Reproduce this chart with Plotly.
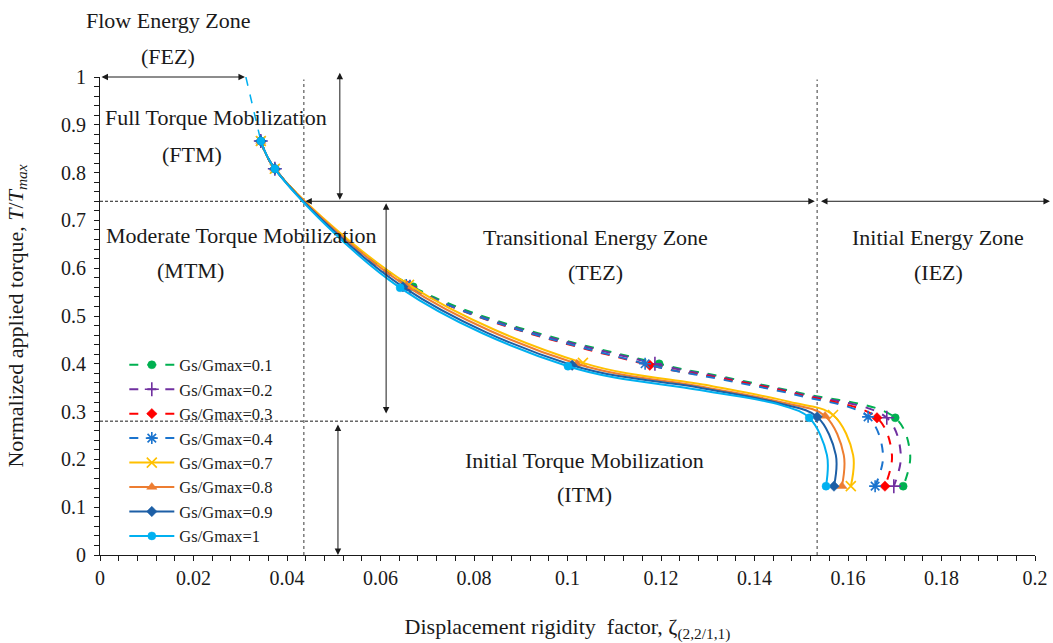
import plotly.graph_objects as go

# ---- Gs/Gmax series: displacement rigidity factor (x) vs normalized torque T/Tmax (y) ----
# points 0,1,2,3,6,8 are the measured (marked) states; 4,5,7 trace the curve between them
x_g01 = [0.0344, 0.0374, 0.0670, 0.1196, 0.1326, 0.1497, 0.1701, 0.1733, 0.1718]
y_g01 = [0.866, 0.808, 0.561, 0.400, 0.374, 0.339, 0.287, 0.209, 0.144]

x_g02 = [0.0344, 0.0374, 0.0663, 0.1187, 0.1326, 0.1497, 0.1683, 0.1713, 0.1698]
y_g02 = [0.866, 0.808, 0.561, 0.400, 0.372, 0.337, 0.287, 0.209, 0.144]

x_g03 = [0.0344, 0.0374, 0.0659, 0.1176, 0.1326, 0.1497, 0.1662, 0.1694, 0.1679]
y_g03 = [0.866, 0.808, 0.563, 0.397, 0.370, 0.335, 0.287, 0.209, 0.144]

x_g04 = [0.0344, 0.0374, 0.0655, 0.1166, 0.1326, 0.1497, 0.1643, 0.1675, 0.1658]
y_g04 = [0.866, 0.808, 0.565, 0.400, 0.368, 0.333, 0.289, 0.209, 0.144]

x_g07 = [0.0344, 0.0374, 0.0661, 0.1033, 0.1305, 0.1476, 0.1568, 0.1611, 0.1606]
y_g07 = [0.866, 0.808, 0.565, 0.402, 0.354, 0.320, 0.293, 0.209, 0.144]

x_g08 = [0.0344, 0.0374, 0.0655, 0.1020, 0.1294, 0.1465, 0.1551, 0.1591, 0.1587]
y_g08 = [0.866, 0.808, 0.563, 0.400, 0.351, 0.318, 0.291, 0.209, 0.144]

x_g09 = [0.0344, 0.0374, 0.0648, 0.1010, 0.1288, 0.1459, 0.1534, 0.1574, 0.1570]
y_g09 = [0.866, 0.808, 0.561, 0.397, 0.349, 0.316, 0.289, 0.209, 0.144]

x_g10 = [0.0344, 0.0374, 0.0642, 0.1001, 0.1283, 0.1455, 0.1517, 0.1555, 0.1553]
y_g10 = [0.866, 0.808, 0.559, 0.395, 0.345, 0.314, 0.287, 0.209, 0.144]

marked_idx = [0, 1, 2, 3, 6, 8]

# flow-energy limit segment from full torque down to the first measured point
x_fez = [0.0312, 0.0344]
y_fez = [1.0, 0.866]

# zone boundaries
zeta_ftm_mtm = 0.0436
zeta_tez_iez = 0.1534
t_ftm_mtm = 0.74
t_itm = 0.28

series = [
    ("Gs/Gmax=0.1", x_g01, y_g01, "#00B050", "dash", "circle", 8),
    ("Gs/Gmax=0.2", x_g02, y_g02, "#7030A0", "dash", "cross-thin", 10),
    ("Gs/Gmax=0.3", x_g03, y_g03, "#FF0000", "dash", "diamond", 8),
    ("Gs/Gmax=0.4", x_g04, y_g04, "#1B74CE", "dash", "asterisk", 10),
    ("Gs/Gmax=0.7", x_g07, y_g07, "#FFC000", "solid", "x-thin", 10),
    ("Gs/Gmax=0.8", x_g08, y_g08, "#ED7D31", "solid", "triangle-up", 9),
    ("Gs/Gmax=0.9", x_g09, y_g09, "#1D5FA6", "solid", "diamond", 8),
    ("Gs/Gmax=1", x_g10, y_g10, "#00B0F0", "solid", "circle", 8),
]

SERIF = "Liberation Serif"
INK = "#1a1a1a"
CLEAR = "rgba(0,0,0,0)"

fig = go.Figure()

fig.add_trace(go.Scatter(
    x=x_fez, y=y_fez, mode="lines", showlegend=False, hoverinfo="skip",
    line=dict(color="#00B0F0", width=1.5, dash="dash"),
))

for name, xs, ys, color, dash, symbol, msize in series:
    open_sym = symbol in ("cross-thin", "x-thin", "asterisk")
    cols = [color if i in marked_idx else CLEAR for i in range(len(xs))]
    fig.add_trace(go.Scatter(
        x=xs, y=ys, name=name, mode="lines+markers",
        line=dict(color=color, width=2, dash=dash, shape="spline", smoothing=1.0),
        marker=dict(
            symbol=symbol, size=msize, color=cols,
            line=dict(color=cols, width=1.6 if open_sym else 0.5),
        ),
    ))

# dotted zone boundaries and dashed torque levels
line_shapes = [
    dict(x0=zeta_ftm_mtm, x1=zeta_ftm_mtm, y0=0, y1=0.995,
         line=dict(color="#666666", width=1.3, dash="dot")),
    dict(x0=zeta_tez_iez, x1=zeta_tez_iez, y0=0, y1=0.995,
         line=dict(color="#666666", width=1.3, dash="dot")),
    dict(x0=0, x1=zeta_ftm_mtm, y0=t_ftm_mtm, y1=t_ftm_mtm,
         line=dict(color=INK, width=1, dash="3px,2px")),
    dict(x0=0, x1=zeta_tez_iez, y0=t_itm, y1=t_itm,
         line=dict(color=INK, width=1, dash="3px,2px")),
]
for s in line_shapes:
    fig.add_shape(type="line", xref="x", yref="y", layer="below", **s)

# double-headed range arrows
arrows = [
    (0.0, 1.0, 0.031, 1.0),
    (0.0513, 1.012, 0.0513, 0.743),
    (zeta_ftm_mtm, t_ftm_mtm, zeta_tez_iez - 0.0005, t_ftm_mtm),
    (zeta_tez_iez + 0.0005, t_ftm_mtm, 0.2032, t_ftm_mtm),
    (0.0612, 0.739, 0.0612, 0.296),
    (0.0509, 0.276, 0.0509, 0.0),
]
for x0, y0, x1, y1 in arrows:
    fig.add_annotation(
        x=x1, y=y1, ax=x0, ay=y0, xref="x", yref="y", axref="x", ayref="y",
        text="", showarrow=True, arrowhead=2, startarrowhead=2, arrowside="end+start",
        arrowsize=1.3, startarrowsize=1.3, arrowwidth=1, arrowcolor=INK,
        standoff=0, startstandoff=0,
    )

# zone labels (x in data units; y in plot-height fractions, which equal T/Tmax here)
labels = [
    ("Flow Energy Zone", 0.0146, 1.119),
    ("(FEZ)", 0.0146, 1.042),
    ("Full Torque Mobilization", 0.0248, 0.916),
    ("(FTM)", 0.0197, 0.837),
    ("Moderate Torque Mobilization", 0.0302, 0.669),
    ("(MTM)", 0.0193, 0.596),
    ("Transitional Energy Zone", 0.1059, 0.665),
    ("(TEZ)", 0.1059, 0.592),
    ("Initial Energy Zone", 0.1793, 0.665),
    ("(IEZ)", 0.1793, 0.592),
    ("Initial Torque Mobilization", 0.1037, 0.197),
    ("(ITM)", 0.1037, 0.126),
]
for txt, lx, ly in labels:
    fig.add_annotation(
        x=lx, y=ly, xref="x", yref="paper", text=txt, showarrow=False,
        font=dict(family=SERIF, size=22, color=INK),
        xanchor="center", yanchor="middle",
    )

axis_common = dict(
    showline=True, linecolor=INK, linewidth=1, mirror=False,
    showgrid=False, zeroline=False,
    ticks="outside", ticklen=5, tickwidth=1, tickcolor=INK,
    tickfont=dict(family=SERIF, size=20, color=INK),
    automargin=False,
)

fig.update_layout(
    width=1053, height=643,
    margin=dict(l=100, r=18, t=77, b=88),
    paper_bgcolor="white", plot_bgcolor="white",
    font=dict(family=SERIF, color=INK),
    xaxis=dict(
        range=[0, 0.2], dtick=0.02, tick0=0,
        minor=dict(dtick=0.004, ticks="outside", ticklen=5, tickcolor=INK, showgrid=False),
        title=dict(text="Displacement rigidity  factor, ζ<sub>(2,2/1,1)</sub>",
                   font=dict(family=SERIF, size=22, color=INK), standoff=30),
        **axis_common,
    ),
    yaxis=dict(
        range=[0, 1], dtick=0.1, tick0=0, ticklabelstandoff=4,
        minor=dict(dtick=0.02, ticks="outside", ticklen=5, tickcolor=INK, showgrid=False),
        title=dict(text="Normalized applied torque, <i>T</i>/<i>T</i><sub><i>max</i></sub>",
                   font=dict(family=SERIF, size=22, color=INK), standoff=31),
        **axis_common,
    ),
    legend=dict(
        x=0.026, y=0.434, xanchor="left", yanchor="top",
        bgcolor="rgba(0,0,0,0)", borderwidth=0,
        font=dict(family=SERIF, size=16.5, color=INK),
        itemwidth=45, tracegroupgap=0,
    ),
    showlegend=True,
)

fig.write_html("out.html")
